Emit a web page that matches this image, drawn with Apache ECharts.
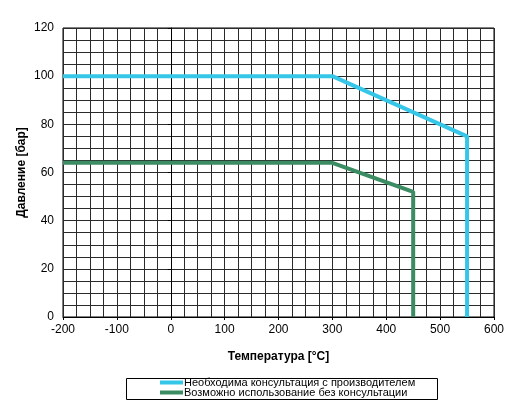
<!DOCTYPE html>
<html style="height: 100%">
<head>
    <meta charset="utf-8">
    <script src="https://cdn.jsdelivr.net/npm/echarts@6/dist/echarts.min.js"></script>
</head>
<body style="height: 100%; margin: 0; background: #fff">
    <div id="container" style="width: 518px; height: 404px"></div>
    <script type="text/javascript">
        // данные
        var seriesNames = ['Необходима консультация с производителем', 'Возможно использование без консультации'];
        var blueTemp = [-200, 300, 550, 550];
        var bluePress = [100, 100, 75, 0];
        var greenTemp = [-200, 300, 450, 450];
        var greenPress = [64, 64, 52, 0];

        function pairs(xs, ys) {
            var out = [];
            for (var i = 0; i < xs.length; i++) out.push([xs[i], ys[i]]);
            return out;
        }

        var font = 'Arial, "Liberation Sans", sans-serif';
        var dom = document.getElementById("container");
        var myChart = echarts.init(dom);
        var option = {
            animation: false,
            grid: { left: 63, right: 24, top: 28, bottom: 87, show: true, borderColor: '#000', borderWidth: 1 },
            // рамка легенды
            graphic: [{
                type: 'rect', left: 124, top: 376,
                shape: { width: 311, height: 21 },
                style: { fill: 'none', stroke: '#000', lineWidth: 1 }
            }],
            xAxis: {
                type: 'value', min: -200, max: 600, interval: 100,
                name: 'Температура [°C]', nameLocation: 'middle', nameGap: 34, nameMoveOverlap: false,
                nameTextStyle: { fontFamily: font, fontSize: 12, fontWeight: 'bold', color: '#000' },
                axisLine: { show: true, lineStyle: { color: '#000' } },
                axisTick: { show: true, length: 3, lineStyle: { color: '#000' } },
                axisLabel: { fontFamily: font, fontSize: 12, color: '#000', margin: 7 },
                splitLine: { show: true, lineStyle: { color: '#2a2a2a', width: 1 } },
                minorTick: { show: false, splitNumber: 4 },
                minorSplitLine: { show: true, lineStyle: { color: '#2a2a2a', width: 1 } }
            },
            yAxis: {
                type: 'value', min: 0, max: 120, interval: 20,
                name: 'Давление [бар]', nameLocation: 'middle', nameGap: 35, nameRotate: 90, nameMoveOverlap: false,
                nameTextStyle: { fontFamily: font, fontSize: 12, fontWeight: 'bold', color: '#000' },
                axisLine: { show: true, lineStyle: { color: '#000' } },
                axisTick: { show: true, length: 3, lineStyle: { color: '#000' } },
                axisLabel: { fontFamily: font, fontSize: 12, color: '#000', margin: 9 },
                splitLine: { show: true, lineStyle: { color: '#2a2a2a', width: 1 } },
                minorTick: { show: false, splitNumber: 4 },
                minorSplitLine: { show: true, lineStyle: { color: '#2a2a2a', width: 1 } }
            },
            legend: {
                orient: 'vertical', left: 160, top: 376,
                padding: [1, 0, 0, 0], itemGap: -1,
                icon: 'rect', itemWidth: 23, itemHeight: 4,
                textStyle: { fontFamily: font, fontSize: 11, color: '#000', padding: [0, 0, 0, -4] },
                data: seriesNames
            },
            series: [{
                name: seriesNames[0], type: 'line', showSymbol: false,
                data: pairs(blueTemp, bluePress),
                lineStyle: { color: '#36C6E8', width: 4 }, itemStyle: { color: '#36C6E8' }
            }, {
                name: seriesNames[1], type: 'line', showSymbol: false,
                data: pairs(greenTemp, greenPress),
                lineStyle: { color: '#3B8C62', width: 4 }, itemStyle: { color: '#3B8C62' }
            }]
        };
        myChart.setOption(option, true);
    </script>
</body>
</html>
